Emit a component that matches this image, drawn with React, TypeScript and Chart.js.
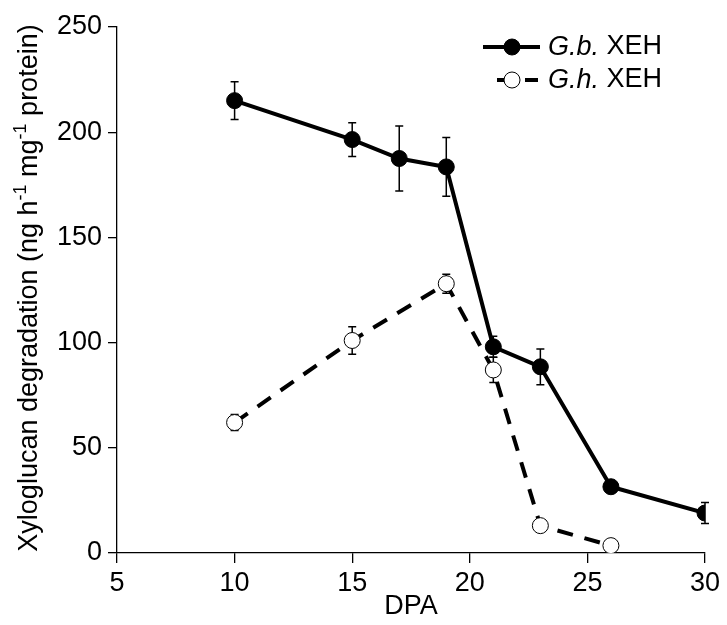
import React, { useEffect, useRef } from "react";
import { Chart, registerables } from "chart.js";

Chart.register(...registerables);

// ---- data ----
const gbDays = [10, 15, 17, 19, 21, 23, 26, 30];
const gbValues = [215, 196.5, 187.5, 183.5, 98, 88.5, 31.5, 19];
const gbErrors = [9, 8, 15.5, 14, 5, 8.5, 0, 5];

const ghDays = [10, 15, 19, 21, 23, 26];
const ghValues = [62, 101, 128, 87, 13, 3.5];
const ghErrors = [3.8, 6.5, 4.5, 6, 0, 0];

const xTicks = [5, 10, 15, 20, 25, 30];
const yTicks = [0, 50, 100, 150, 200, 250];

const seriesSpecies = ["G.b.", "G.h."];
const seriesSuffix = " XEH";
const xTitle = "DPA";
const yTitleParts: { t: string; sup: boolean }[] = [
  { t: "Xyloglucan degradation (ng h", sup: false },
  { t: "-1", sup: true },
  { t: " mg", sup: false },
  { t: "-1", sup: true },
  { t: " protein)", sup: false },
];

const FAMILY = "'Liberation Sans', Arial, Helvetica, sans-serif";
const FS = 27;

const errorBarPlugin = {
  id: "errorBars",
  beforeDatasetsDraw(chart: any) {
    const ctx = chart.ctx;
    const y = chart.scales.y;
    ctx.save();
    ctx.strokeStyle = "#000";
    ctx.lineWidth = 1.5;
    chart.data.datasets.forEach((ds: any, i: number) => {
      const meta = chart.getDatasetMeta(i);
      meta.data.forEach((pt: any, j: number) => {
        const e = ds.errors[j];
        if (!e) return;
        const v = ds.data[j].y;
        const top = y.getPixelForValue(v + e);
        const bot = y.getPixelForValue(v - e);
        const x = pt.x;
        ctx.beginPath();
        ctx.moveTo(x, top);
        ctx.lineTo(x, bot);
        ctx.moveTo(x - 4, top);
        ctx.lineTo(x + 4, top);
        ctx.moveTo(x - 4, bot);
        ctx.lineTo(x + 4, bot);
        ctx.stroke();
      });
    });
    ctx.restore();
  },
};

const annotatePlugin = {
  id: "annotate",
  afterDraw(chart: any) {
    const ctx = chart.ctx;
    const area = chart.chartArea;
    ctx.save();
    ctx.fillStyle = "#000";
    // y-axis title with superscripts
    const cy = (area.top + area.bottom) / 2 - 2;
    ctx.translate(37, cy);
    ctx.rotate(-Math.PI / 2);
    const mainFont = `${FS}px ${FAMILY}`;
    const supFont = `${Math.round(FS * 0.65)}px ${FAMILY}`;
    let total = 0;
    yTitleParts.forEach((p) => {
      ctx.font = p.sup ? supFont : mainFont;
      total += ctx.measureText(p.t).width;
    });
    let x = -total / 2;
    ctx.textBaseline = "alphabetic";
    ctx.textAlign = "left";
    yTitleParts.forEach((p) => {
      ctx.font = p.sup ? supFont : mainFont;
      ctx.fillText(p.t, x, p.sup ? -11 : 0);
      x += ctx.measureText(p.t).width;
    });
    ctx.restore();

    // legend
    ctx.save();
    const right = area.right;
    const rows = [area.top + 20, area.top + 53];
    chart.data.datasets.forEach((ds: any, i: number) => {
      const ry = rows[i];
      const lx0 = right - 222;
      const lx1 = right - 165;
      const mx = right - 193;
      ctx.strokeStyle = "#000";
      ctx.lineWidth = 4;
      ctx.setLineDash(ds.borderDash || []);
      ctx.beginPath();
      if (ds.borderDash && ds.borderDash.length) {
        ctx.moveTo(right - 208, ry);
        ctx.lineTo(lx1 - 2, ry);
      } else {
        ctx.moveTo(lx0, ry);
        ctx.lineTo(lx1, ry);
      }
      ctx.stroke();
      ctx.setLineDash([]);
      ctx.beginPath();
      ctx.arc(mx, ry, 8, 0, Math.PI * 2);
      ctx.fillStyle = ds.pointBackgroundColor;
      ctx.fill();
      ctx.lineWidth = 1;
      ctx.strokeStyle = "#000";
      ctx.stroke();
      ctx.fillStyle = "#000";
      ctx.textBaseline = "middle";
      ctx.textAlign = "left";
      const tx = right - 157;
      ctx.font = `italic 27px ${FAMILY}`;
      ctx.fillText(seriesSpecies[i], tx, ry);
      const w = ctx.measureText(seriesSpecies[i]).width;
      ctx.font = `27px ${FAMILY}`;
      ctx.fillText(seriesSuffix, tx + w, ry);
    });
    ctx.restore();
  },
};

export default function App() {
  const ref = useRef<HTMLCanvasElement | null>(null);
  useEffect(() => {
    if (!ref.current) return;
    const chart = new Chart(ref.current, {
      type: "line",
      data: {
        datasets: [
          {
            label: seriesSpecies[0] + seriesSuffix,
            data: gbDays.map((d, i) => ({ x: d, y: gbValues[i] })),
            errors: gbErrors,
            borderColor: "#000",
            borderWidth: 4,
            pointRadius: 8,
            pointBackgroundColor: "#000",
            pointBorderColor: "#000",
            pointBorderWidth: 1,
            tension: 0,
            fill: false,
          } as any,
          {
            label: seriesSpecies[1] + seriesSuffix,
            data: ghDays.map((d, i) => ({ x: d, y: ghValues[i] })),
            errors: ghErrors,
            borderColor: "#000",
            borderWidth: 4,
            borderDash: [16, 12],
            pointRadius: 8,
            pointBackgroundColor: "#fff",
            pointBorderColor: "#000",
            pointBorderWidth: 1,
            tension: 0,
            fill: false,
          } as any,
        ],
      },
      options: {
        animation: false,
        responsive: false,
        devicePixelRatio: 1,
        layout: { padding: { top: 27, right: 22, left: 0, bottom: 0 } },
        plugins: { legend: { display: false }, tooltip: { enabled: false } },
        scales: {
          x: {
            type: "linear",
            min: 5,
            max: 30,
            afterBuildTicks: (s: any) => {
              s.ticks = xTicks.map((v) => ({ value: v }));
            },
            afterFit: (s: any) => {
              s.height = 72;
            },
            grid: { drawOnChartArea: false, drawTicks: true, tickLength: 10, color: "#000", lineWidth: 1.3 },
            border: { display: true, color: "#000", width: 1.3 },
            ticks: { color: "#000", font: { family: FAMILY, size: FS }, padding: 4, maxRotation: 0, autoSkip: false },
            title: { display: true, text: xTitle, color: "#000", font: { family: FAMILY, size: FS }, padding: { top: 0, bottom: 2 } },
          },
          y: {
            type: "linear",
            min: 0,
            max: 250,
            afterBuildTicks: (s: any) => {
              s.ticks = yTicks.map((v) => ({ value: v }));
            },
            afterFit: (s: any) => {
              s.width = 117;
            },
            grid: { drawOnChartArea: false, drawTicks: true, tickLength: 9, color: "#000", lineWidth: 1.3 },
            border: { display: true, color: "#000", width: 1.3 },
            ticks: { color: "#000", font: { family: FAMILY, size: FS }, padding: 6, autoSkip: false },
          },
        },
      } as any,
      plugins: [errorBarPlugin, annotatePlugin],
    });
    return () => chart.destroy();
  }, []);
  return (
    <div style={{ position: "fixed", left: 0, top: 0, width: 727, height: 625, background: "#fff" }}>
      <canvas ref={ref} width={727} height={625} style={{ width: 727, height: 625, display: "block" }} />
    </div>
  );
}
